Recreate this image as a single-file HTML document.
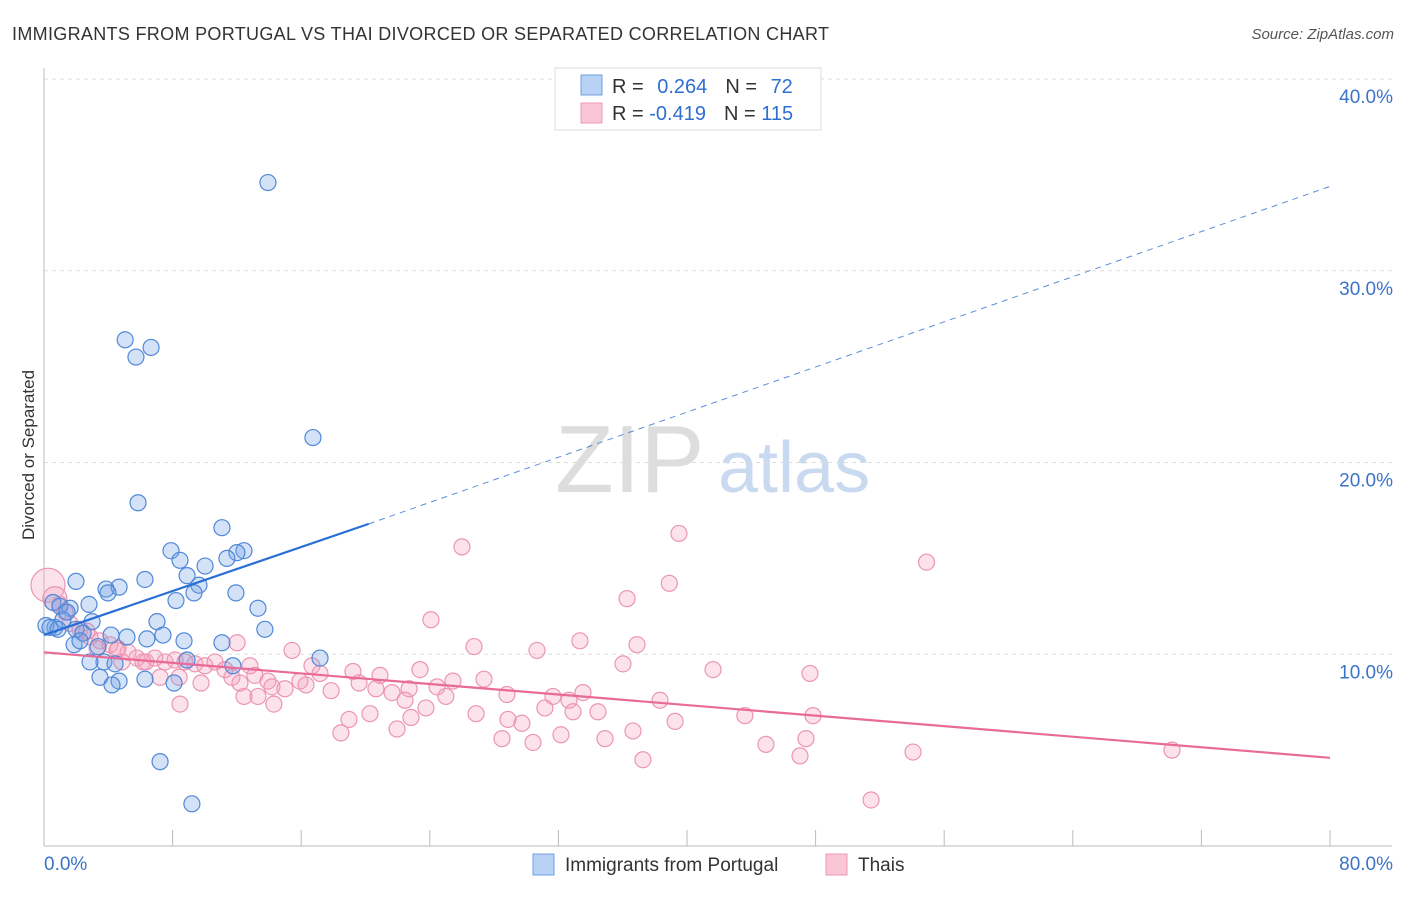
<!DOCTYPE html>
<html><head><meta charset="utf-8"><style>
body{margin:0;background:#fff;font-family:"Liberation Sans",sans-serif}
svg text{font-family:"Liberation Sans",sans-serif}
</style></head><body>
<svg id="chart" width="1406" height="892" xmlns="http://www.w3.org/2000/svg">
<text x="12" y="40" font-size="18" fill="#333" textLength="817">IMMIGRANTS FROM PORTUGAL VS THAI DIVORCED OR SEPARATED CORRELATION CHART</text>
<text x="1394" y="39" font-size="15" fill="#555" font-style="italic" text-anchor="end">Source: ZipAtlas.com</text>
<text x="34" y="455" font-size="17" fill="#333" text-anchor="middle" transform="rotate(-90 34 455)">Divorced or Separated</text>
<text x="555" y="492" font-size="96" fill="#ddd" font-family="Liberation Serif">ZIP</text>
<text x="718" y="492" font-size="72" fill="#c9daf0">atlas</text>
<g id="grid"></g><g id="pts"></g><g id="lines"></g>
<g>
<rect x="555" y="68" width="266" height="62" fill="#fff" stroke="#ddd"/>
<rect x="581" y="75" width="21" height="20" fill="#b8d2f5" stroke="#6f9fe0"/>
<rect x="581" y="103" width="21" height="20" fill="#f9c6d6" stroke="#ee9ab5"/>
<text x="612" y="93" font-size="20" fill="#333">R = <tspan fill="#2f6fd0" dx="8">0.264</tspan><tspan dx="18" fill="#333">N = </tspan><tspan dx="8" fill="#2f6fd0">72</tspan></text>
<text x="612" y="120" font-size="20" fill="#333">R = <tspan fill="#2f6fd0">-0.419</tspan><tspan dx="18" fill="#333">N = </tspan><tspan fill="#2f6fd0">115</tspan></text>
</g>
<g>
<rect x="533" y="854" width="21" height="21" fill="#b8d2f5" stroke="#6f9fe0"/>
<text x="565" y="871" font-size="19" fill="#333">Immigrants from Portugal</text>
<rect x="826" y="854" width="21" height="21" fill="#f9c6d6" stroke="#ee9ab5"/>
<text x="858" y="871" font-size="19" fill="#333">Thais</text>
</g>
</svg>
<script>
const yTicks=[10,20,30,40];
const xTickLabels=["0.0%","80.0%"];
const blueX=[13.93,5.05,6.66,5.72,16.73,5.85,11.07,12.44,7.9,12.0,11.38,8.46,10.02,8.9,1.99,6.28,9.64,4.67,3.86,9.33,11.94,3.98,8.21,2.8,0.56,0.99,1.62,13.31,7.03,2.99,13.74,0.68,0.12,1.99,2.43,4.17,5.16,7.4,6.4,11.07,8.71,3.36,1.87,2.24,17.17,8.9,3.73,2.86,4.42,11.75,3.48,6.28,4.67,4.23,8.09,7.22,9.2,0.37,1.18,1.43,0.87];
const blueY=[34.6,26.4,26.0,25.5,21.3,17.9,16.6,15.4,15.4,15.3,15.0,14.9,14.6,14.1,13.8,13.9,13.6,13.5,13.4,13.2,13.2,13.2,12.8,12.6,12.7,12.5,12.4,12.4,11.7,11.7,11.3,11.4,11.5,11.3,11.1,11.0,10.9,11.0,10.8,10.6,10.7,10.4,10.5,10.7,9.8,9.7,9.6,9.6,9.5,9.4,8.8,8.7,8.6,8.4,8.5,4.4,2.2,11.4,11.8,12.2,11.3];
const pinkX=[39.5,26.0,54.9,38.9,36.27,24.07,33.34,36.89,26.75,30.67,12.01,15.43,36.02,41.62,47.65,23.39,16.67,19.22,20.9,25.44,27.37,15.92,13.93,11.69,8.4,7.22,9.77,12.19,14.18,14.99,16.3,17.86,19.6,20.65,21.65,22.71,24.45,25.0,28.8,31.66,33.53,32.66,12.44,13.31,14.3,8.46,22.46,23.76,22.83,26.88,28.86,29.73,31.16,32.91,34.46,36.64,38.32,39.26,43.6,47.84,20.28,18.97,18.47,21.96,28.49,30.42,32.16,34.9,44.91,47.4,47.03,54.06,37.26,51.45,70.17,0.25,0.68,0.99,1.31,1.62,2.24,2.86,3.48,4.1,4.6,5.23,5.78,6.34,6.9,7.53,8.15,8.77,9.39,10.01,10.64,11.26,12.81,13.12,17.17,6.16,4.85,4.54,3.3,2.67];
const pinkY=[16.3,15.6,14.8,13.7,12.9,11.8,10.7,10.5,10.4,10.2,10.6,10.2,9.5,9.2,9.0,9.2,9.4,9.1,8.9,8.6,8.7,8.6,8.6,8.8,8.8,8.8,8.5,8.5,8.3,8.2,8.4,8.1,8.5,8.2,8.0,8.2,8.3,7.8,7.9,7.8,8.0,7.6,7.8,7.8,7.4,7.4,7.6,7.2,6.7,6.9,6.6,6.4,7.2,7.0,7.0,6.0,7.6,6.5,6.8,6.8,6.9,6.6,5.9,6.1,5.6,5.4,5.8,5.6,5.3,5.6,4.7,4.9,4.5,2.4,5.0,13.6,12.9,12.6,12.2,11.6,11.3,10.9,10.7,10.5,10.3,10.1,9.8,9.6,9.8,9.6,9.7,9.6,9.5,9.4,9.6,9.2,9.4,8.9,9.0,9.6,9.6,10.2,10.3,11.2];
const pinkR=[8,8,8,8,8,8,8,8,8,8,8,8,8,8,8,8,8,8,8,8,8,8,8,8,8,8,8,8,8,8,8,8,8,8,8,8,8,8,8,8,8,8,8,8,8,8,8,8,8,8,8,8,8,8,8,8,8,8,8,8,8,8,8,8,8,8,8,8,8,8,8,8,8,8,8,17,12,8,8,8,8,8,8,8,8,8,8,8,8,8,8,8,8,8,8,8,8,8,8,8,8,8,8,8];
const blueTrend=[[0,11.0],[20.2,16.8],[80,34.4]];
const pinkTrend=[[0,10.1],[80,4.6]];
const X0=44,X1=1330,Y0=846,Y1=79;
const sx=v=>X0+(v/80)*(X1-X0);
const sy=v=>Y0-(v/40)*(Y0-Y1);
const NS="http://www.w3.org/2000/svg";
function mk(tag,attrs,parent){const e=document.createElementNS(NS,tag);for(const k in attrs)e.setAttribute(k,attrs[k]);parent.appendChild(e);return e;}
const grid=document.getElementById('grid');
yTicks.forEach(t=>{
 const l=mk('line',{x1:X0,x2:1392,y1:sy(t),y2:sy(t),stroke:'#ddd','stroke-dasharray':'4,4'},grid);
 
 
 const tx=mk('text',{x:1393,y:sy(t)+24,'font-size':19,fill:'#3b73c8','text-anchor':'end'},grid);
 tx.textContent=t.toFixed(1)+'%';
 
 
});
mk('line',{x1:X0,x2:X0,y1:68,y2:846,stroke:'#bbb'},grid);
mk('line',{x1:X0,x2:1392,y1:846,y2:846,stroke:'#bbb'},grid);
for(let i=0;i<=10;i++){const x=sx(i*8);const t=mk('line',{x1:x,x2:x,y1:830,y2:846,stroke:'#bbb'},grid);
 
 }
xTickLabels.forEach((s,i)=>{const t=mk('text',{x:i?1393:44,y:870,'font-size':19,fill:'#3b73c8','text-anchor':i?'end':'start'},grid);t.textContent=s;
 
 });
const pts=document.getElementById('pts');
pinkX.forEach((v,i)=>{const c=mk('circle',{cx:sx(v),cy:sy(pinkY[i]),r:pinkR[i],fill:'rgba(244,160,188,0.3)',stroke:'#ec95b2','stroke-width':1.2},pts);
 
 });
blueX.forEach((v,i)=>{const c=mk('circle',{cx:sx(v),cy:sy(blueY[i]),r:8,fill:'rgba(110,160,230,0.3)',stroke:'#4f88d8','stroke-width':1.2},pts);
 
 });
const lines=document.getElementById('lines');
let b1=mk('line',{x1:sx(blueTrend[0][0]),y1:sy(blueTrend[0][1]),x2:sx(blueTrend[1][0]),y2:sy(blueTrend[1][1]),stroke:'#2a6fd6','stroke-width':2.2},lines);


let b2=mk('line',{x1:sx(blueTrend[1][0]),y1:sy(blueTrend[1][1]),x2:sx(blueTrend[2][0]),y2:sy(blueTrend[2][1]),stroke:'#5b8fd8','stroke-width':1,'stroke-dasharray':'6,5'},lines);


let p1=mk('line',{x1:sx(pinkTrend[0][0]),y1:sy(pinkTrend[0][1]),x2:sx(pinkTrend[1][0]),y2:sy(pinkTrend[1][1]),stroke:'#e86a98','stroke-width':2.2},lines);


</script>
</body></html>
